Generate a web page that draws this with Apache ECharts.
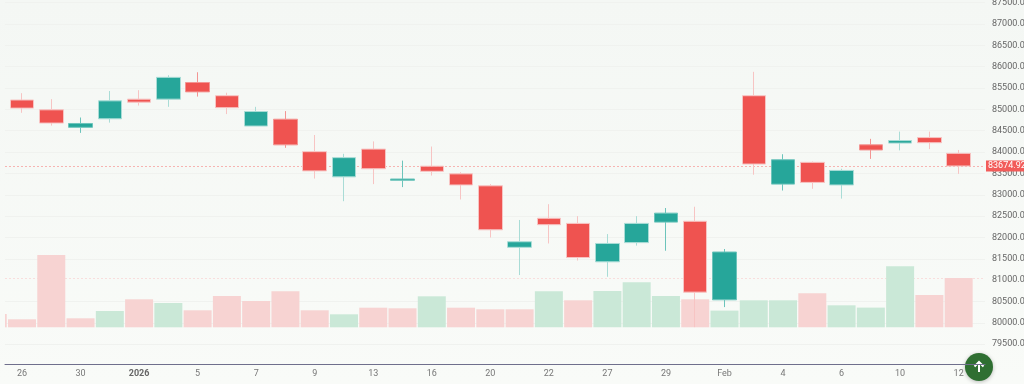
<!DOCTYPE html>
<html>
<head>
<meta charset="utf-8">
<style>
  html, body { margin: 0; padding: 0; background: #f6f8f5; }
  #chart { width: 1024px; height: 384px; overflow: hidden; }
</style>
<script src="https://cdn.jsdelivr.net/npm/echarts@6/dist/echarts.min.js"></script>
</head>
<body>
<div id="chart"></div>
<script>
// x轴标签（每两根K线一个）
const xLabels = ['26', '30', '2026', '5', '7', '9', '13', '16', '20', '22', '27', '29', 'Feb', '4', '6', '10', '12'];
const yTicks = [79500, 80000, 80500, 81000, 81500, 82000, 82500, 83000, 83500, 84000, 84500, 85000, 85500, 86000, 86500, 87000, 87500];

// K线数据
const opens  = [85220, 84990, 84580, 84780, 85240, 85240, 85630, 85320, 84610, 84770, 84010, 83420, 84070, 83340, 83670, 83490, 83210, 81770, 82450, 82330, 81430, 81880, 82360, 82380, 80540, 85320, 83250, 83760, 83230, 84170, 84210, 84340, 83970];
const closes = [85030, 84680, 84670, 85200, 85170, 85750, 85410, 85040, 84950, 84170, 83560, 83870, 83610, 83370, 83550, 83230, 82180, 81900, 82300, 81530, 81860, 82330, 82570, 80720, 81660, 83720, 83820, 83290, 83570, 84050, 84270, 84220, 83674.92];
const lows   = [84920, 84620, 84450, 84690, 85090, 85060, 85300, 84890, 84610, 84100, 83380, 82850, 83250, 83180, 83450, 82890, 82000, 81120, 81860, 81460, 81080, 81810, 81690, 79900, 80370, 83470, 83100, 83140, 82910, 83840, 84040, 84070, 83490];
const highs  = [85380, 85240, 84810, 85430, 85450, 85800, 85870, 85390, 85060, 84960, 84400, 83960, 84250, 83800, 84130, 83530, 83250, 82410, 82780, 82500, 82080, 82500, 82690, 82720, 81730, 85880, 83950, 83780, 83610, 84310, 84480, 84480, 84050];
const lastPrice = 83674.92;

// 成交量，第一个是左边被裁掉的那根（下标 -1）
const volumes = [13.3, 8, 72.3, 9, 16.3, 28, 24.3, 17, 31.3, 26.3, 36, 17, 13, 19.6, 19, 31, 19.6, 18, 18, 36, 27, 36.3, 45, 31.3, 28, 16.7, 27, 27, 34, 22, 19.7, 61, 32.3, 49.3];
const volumeSides = ['d', 'd', 'd', 'd', 'u', 'd', 'u', 'd', 'd', 'd', 'd', 'd', 'u', 'd', 'd', 'u', 'd', 'd', 'd', 'u', 'd', 'u', 'u', 'u', 'd', 'u', 'u', 'u', 'd', 'u', 'u', 'u', 'd', 'd'];

// 影线比较清晰的几根
const sharpWicks = [2, 6, 9, 13, 22, 24, 26, 29];

const upColor = '#26a69a';
const downColor = '#ef5350';
const xMin = -0.581;
const xMax = 32.9;

// 81000 那条网格线被成交量的虚线盖住了，原图看不到
const gridTicks = yTicks.filter(function(v) { return v !== 81000; });

const candleData = opens.map(function(open, i) {
  const up = closes[i] > open;
  const item = { value: [i, open, closes[i], lows[i], highs[i]] };
  if (sharpWicks.indexOf(i) >= 0) {
    item.itemStyle = up ? { borderColor: '#6cc4bb' } : { borderColor: '#f39593' };
  }
  return item;
});

const volumeData = volumes.map(function(v, i) {
  return {
    value: [i - 1, v],
    itemStyle: { color: volumeSides[i] === 'u' ? '#cae8d7' : '#f7d3d2' }
  };
});

const chart = echarts.init(document.getElementById('chart'));

const option = {
  animation: false,
  backgroundColor: new echarts.graphic.LinearGradient(0, 0, 0, 1, [
    { offset: 0, color: '#f4f7f4' },
    { offset: 1, color: '#f9fbf8' }
  ]),
  textStyle: { fontFamily: 'Roboto, sans-serif' },
  grid: [
    { left: 5, right: 39, top: 0, bottom: 20, outerBoundsMode: 'none' },
    { left: 5, right: 39, top: 227.3, height: 100, outerBoundsMode: 'none' }
  ],
  xAxis: [
    {
      type: 'value', gridIndex: 0, min: xMin, max: xMax,
      splitLine: { show: false },
      axisLine: { show: true, onZero: false, lineStyle: { color: '#6f6f8c', width: 1 } },
      axisTick: { show: false, customValues: xLabels.map((s, i) => i * 2) },
      axisLabel: {
        customValues: xLabels.map((s, i) => i * 2),
        fontSize: 9, color: '#777', margin: 5, hideOverlap: false,
        formatter: function(v) {
          const s = xLabels[v / 2];
          return s === '2026' ? '{b|' + s + '}' : s;
        },
        rich: { b: { fontWeight: 'bold', fontSize: 9, color: '#666' } }
      }
    },
    { type: 'value', gridIndex: 1, min: xMin, max: xMax, show: false, splitLine: { show: false } }
  ],
  yAxis: [
    {
      type: 'value', gridIndex: 0, position: 'right', min: 79037, max: 87562,
      axisLine: { show: false },
      axisTick: { show: false, customValues: gridTicks },
      splitLine: { show: true, lineStyle: { color: '#f0f2ef', width: 1 } },
      axisLabel: {
        customValues: yTicks,
        fontSize: 9, color: '#666', margin: 7,
        formatter: function(v) { return v.toFixed(2); }
      }
    },
    { type: 'value', gridIndex: 1, min: 0, max: 100, show: false, splitLine: { show: false } }
  ],
  series: [
    {
      name: 'volume', type: 'bar', xAxisIndex: 1, yAxisIndex: 1, z: 2,
      barWidth: 28, silent: true,
      data: volumeData,
      markLine: {
        silent: true, symbol: 'none', z: 1,
        label: { show: false },
        data: [{ yAxis: volumes[volumes.length - 1], lineStyle: { color: '#f9dedd', type: [2, 2], width: 1 } }]
      }
    },
    {
      name: 'kline', type: 'candlestick', xAxisIndex: 0, yAxisIndex: 0, z: 3,
      barWidth: 24, silent: true,
      encode: { x: 0, y: [1, 2, 3, 4] },
      itemStyle: {
        color: upColor, color0: downColor,
        borderColor: '#a9dcd6', borderColor0: '#f7c4c3', borderWidth: 1
      },
      data: candleData,
      markLine: {
        silent: true, symbol: 'none', z: 1,
        label: {
          show: true, position: 'end', distance: 1,
          color: '#fff', fontSize: 9, backgroundColor: '#f25c5a',
          padding: [1, 8, 1, 2],
          formatter: function() { return lastPrice.toFixed(2); }
        },
        data: [{ yAxis: lastPrice, lineStyle: { color: '#f6b4b2', type: [2, 2], width: 1 } }]
      }
    }
  ],
  graphic: [
    // 非类目轴的柱子不会被裁剪，用一小块背景挡住绘图区左边的部分
    {
      type: 'rect', left: 0, top: 305, z: 5,
      shape: { width: 5, height: 25 },
      style: { fill: '#f8faf7' }
    },
    {
      type: 'group', left: 965, top: 353, z: 10,
      children: [
        {
          type: 'circle', shape: { cx: 14, cy: 14, r: 14 },
          style: { fill: '#2f6f32', shadowBlur: 4, shadowColor: 'rgba(0,0,0,0.25)', shadowOffsetY: 1 }
        },
        { type: 'polyline', shape: { points: [[14, 19], [14, 9]] }, style: { stroke: '#fff', lineWidth: 2, fill: null } },
        { type: 'polyline', shape: { points: [[9.5, 13.5], [14, 9], [18.5, 13.5]] }, style: { stroke: '#fff', lineWidth: 2, fill: null } }
      ]
    }
  ]
};

chart.setOption(option);
</script>
</body>
</html>
